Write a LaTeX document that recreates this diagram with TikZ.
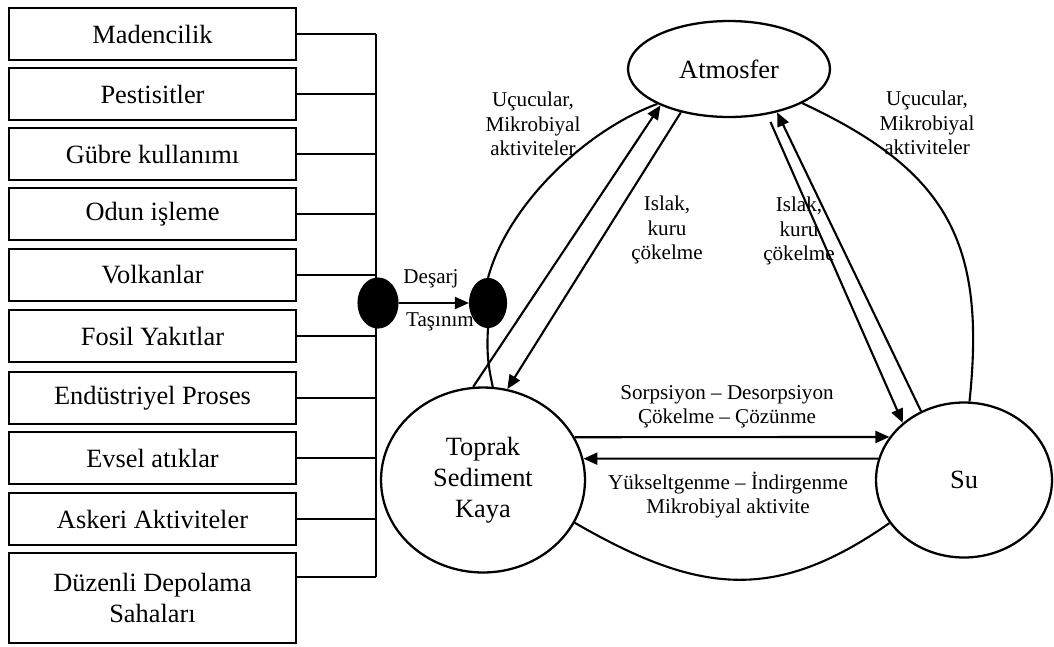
\documentclass[tikz,border=0pt]{standalone}
\usepackage{fontspec}
\setmainfont{Liberation Serif}
\usetikzlibrary{shapes.geometric,arrows.meta}

\begin{document}
\begin{tikzpicture}[
        x=0.02cm, y=-0.02cm,
        line width=1.2pt,
        src/.style={draw, rectangle, line width=1.5pt, minimum width=5.74cm, minimum height=1.04cm,
            align=center, inner sep=0pt, font=\fontsize{15}{17.5}\selectfont},
        medium/.style={draw, ellipse, line width=1.3pt, align=center, inner sep=0pt,
            font=\fontsize{15}{17.5}\selectfont},
        blob/.style={draw, ellipse, fill=black, inner sep=0pt},
        lbl/.style={align=center, inner sep=1pt, font=\fontsize{12}{13.8}\selectfont},
        flow/.style={-{Triangle[length=0.28cm, width=0.24cm]}},
    ]
    \useasboundingbox (0,0) rectangle (1054,646);

    % sources
    \node[src] (mad) at (152.5,34) {Madencilik};
    \node[src] (pes) at (152.5,94) {Pestisitler};
    \node[src] (gub) at (152.5,154) {Gübre kullanımı};
    \node[src] (odu) at (152.5,214) {Odun işleme};
    \node[src] (vol) at (152.5,275) {Volkanlar};
    \node[src] (fos) at (152.5,336) {Fosil Yakıtlar};
    \node[src] (end) at (152.5,398) {Endüstriyel Proses};
    \node[src] (evs) at (152.5,458) {Evsel atıklar};
    \node[src] (ask) at (152.5,519) {Askeri Aktiviteler};
    \node[src, minimum height=1.8cm] (dep) at (152.5,598) {Düzenli Depolama\\Sahaları};

    \coordinate (bustop) at (376,34);
    \coordinate (busbot) at (376,577);
    \draw (bustop) -- (busbot);
    \foreach \s in {mad,pes,gub,odu,vol,fos,end,evs,ask}
        \draw (\s.east) -- (\s.east -| bustop);
    \draw ([yshift=0.42cm]dep.east) -- ([yshift=0.42cm]dep.east -| bustop);

    % media
    \node[blob, minimum width=0.78cm, minimum height=0.98cm] (dis) at (378,303) {};
    \node[blob, minimum width=0.72cm, minimum height=0.96cm] (tas) at (488,303) {};
    \node[medium, minimum width=4.04cm, minimum height=1.92cm] (atm) at (729,69) {Atmosfer};
    \node[medium, minimum width=4.08cm, minimum height=3.7cm] (top) at (483,480) {Toprak\\Sediment\\Kaya};
    \node[medium, minimum width=3.52cm, minimum height=3.1cm] (su) at (964,480) {Su};

    \draw[flow] (dis) -- (tas);
    \draw (tas.north) to[out=75, in=200, looseness=0.8] (atm.206);
    \draw (tas.south) to[bend right=8] (top.84);
    \draw[flow] (top.96) -- (atm.208);
    \draw[flow] (atm.222) -- (top.75);
    \draw[flow, shorten <=0.16cm] (atm.310) -- (su.137);
    \draw[flow] (su.122) -- (atm.318);
    \draw (atm.335) to[out=-25, in=84, looseness=1.2] (su.86);
    \draw[flow] (top.25) -- (su.150);
    \draw[flow] (su.166) -- (top.12);
    \draw (top.335) to[out=-30, in=215, looseness=1.15] (su.210);

    % labels
    \node[lbl] (desarj) at (431,279) {Deşarj};
    \node[lbl] (tasinim) at (440,322) {Taşınım};
    \node[lbl] (ucL) at (533,124) {Uçucular,\\Mikrobiyal\\aktiviteler};
    \node[lbl] (ucR) at (927,123) {Uçucular,\\Mikrobiyal\\aktiviteler};
    \node[lbl] (islL) at (667,230) {Islak,\\kuru\\çökelme};
    \node[lbl] (islR) at (799,231) {Islak,\\kuru\\çökelme};
    \node[lbl] (sorp) at (727,407) {Sorpsiyon -- Desorpsiyon\\Çökelme -- Çözünme};
    \node[lbl] (yuks) at (728,495) {Yükseltgenme -- İndirgenme\\Mikrobiyal aktivite};
\end{tikzpicture}
\end{document}
